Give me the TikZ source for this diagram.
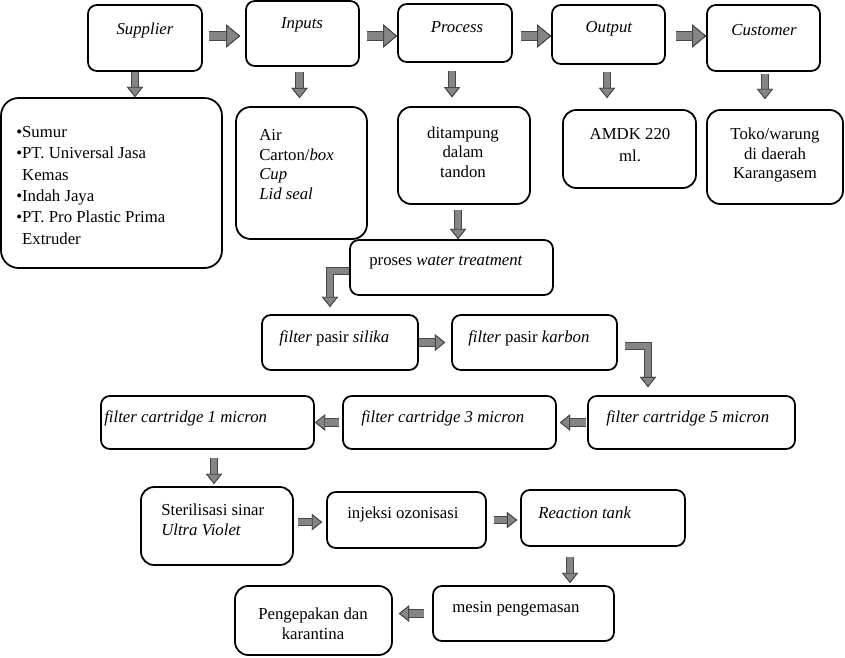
\documentclass[tikz,border=0pt]{standalone}
\usepackage{fontspec}
\setmainfont{Liberation Serif}
\newfontfamily\tnr{Liberation Serif}
\usetikzlibrary{arrows.meta,positioning,calc,fit}
\definecolor{arrfill}{gray}{0.52}
\definecolor{arrline}{gray}{0.28}
\tikzset{
  box/.style={draw=black, line width=1.2pt, rounded corners=6pt, inner sep=0pt},
  bigbox/.style={box, rounded corners=12pt},
  txt/.style={font=\tnr\fontsize{11.4}{13.4}\selectfont, inner sep=0pt, align=left},
  ctxt/.style={txt, align=center},
  arr/.style={draw=arrfill, line width=4.4pt, line join=miter,
              -{Triangle[length=7pt, width=11pt, fill=arrfill, color=arrline, line width=0.6pt]},
              preaction={draw=arrline, line width=5.8pt}},
  bigarr/.style={arr, line width=6pt,
              -{Triangle[length=9.5pt, width=15.6pt, fill=arrfill, color=arrline, line width=0.6pt]},
              preaction={draw=arrline, line width=7.4pt}},
}
\begin{document}
\begin{tikzpicture}[x=0.68pt, y=-0.68pt]
  \useasboundingbox (0,0) rectangle (845,657);
  % SIPOC row
  \node[box, fit={(88,5) (202,71)}] (sup) {};
  \node[box, fit={(246,1) (359,66)}] (inp) {};
  \node[box, fit={(398,4) (512,62)}] (pro) {};
  \node[box, fit={(552,5) (665,64)}] (out) {};
  \node[box, fit={(707,5) (820,71)}] (cus) {};
  \node[ctxt] (supT) at (145,30) {\textit{Supplier}};
  \node[ctxt] (inpT) at (302,25) {\textit{Inputs}};
  \node[ctxt] (proT) at (457,27) {\textit{Process}};
  \node[ctxt] (outT) at (609,29) {\textit{Output}};
  \node[ctxt] (cusT) at (764,30) {\textit{Customer}};
  % details under each
  \node[bigbox, fit={(1,98) (222,268)}] (supL) {};
  \node[box, rounded corners=10pt, fit={(236,107) (367,239)}] (inpL) {};
  \node[box, rounded corners=9pt, fit={(398,107) (530,204)}] (tand) {};
  \node[box, rounded corners=9pt, fit={(563,110) (696,188)}] (amdk) {};
  \node[box, rounded corners=9pt, fit={(707,110) (843,204)}] (toko) {};
  \node[txt, font=\tnr\fontsize{11.4}{14.5}\selectfont, anchor=north west] (supLT) at (16,126)
    {\textbullet Sumur\\ \textbullet PT. Universal Jasa\\ \phantom{\textbullet}Kemas\\
     \textbullet Indah Jaya\\ \textbullet PT. Pro Plastic Prima\\ \phantom{\textbullet}Extruder};
  \node[txt, anchor=north west] (inpLT) at (259,129) {Air\\ Carton/\textit{box}\\ \textit{Cup}\\ \textit{Lid seal}};
  \node[ctxt] (tandT) at (463,152) {ditampung\\ dalam\\ tandon};
  \node[ctxt, font=\tnr\fontsize{11.4}{15}\selectfont] (amdkT) at (630,145) {AMDK 220\\ ml.};
  \node[ctxt] (tokoT) at (775,155) {Toko/warung\\ di daerah\\ Karangasem};
  % water treatment chain
  \node[box, fit={(350,240) (553,295)}] (wt) {};
  \node[box, fit={(262,315) (418,370)}] (sil) {};
  \node[box, fit={(452,315) (617,370)}] (kar) {};
  \node[box, fit={(588,396) (795,449)}] (c5) {};
  \node[box, fit={(343,396) (556,449)}] (c3) {};
  \node[box, fit={(101,396) (314,449)}] (c1) {};
  \node[box, rounded corners=9pt, fit={(141,487) (293,565)}] (uv) {};
  \node[box, fit={(327,492) (486,548)}] (oz) {};
  \node[box, fit={(521,490) (685,546)}] (rt) {};
  \node[box, fit={(433,586) (614,641)}] (mes) {};
  \node[box, rounded corners=9pt, fit={(235,586) (392,655)}] (pak) {};
  \node[txt, anchor=west] (wtT) at (369,263) {proses \textit{water treatment}};
  \node[txt, anchor=west] (silT) at (279,338) {\textit{filter} pasir \textit{silika}};
  \node[txt, anchor=west] (karT) at (468,338) {\textit{filter} pasir \textit{karbon}};
  \node[txt, anchor=west] (c5T) at (606,418) {\textit{filter cartridge 5 micron}};
  \node[txt, anchor=west] (c3T) at (361,418) {\textit{filter cartridge 3 micron}};
  \node[txt, anchor=west] (c1T) at (104,418) {\textit{filter cartridge 1 micron}};
  \node[txt, anchor=north west] (uvT) at (161,504) {Sterilisasi sinar\\ \textit{Ultra Violet}};
  \node[txt, anchor=west] (ozT) at (347,514) {injeksi ozonisasi};
  \node[txt, anchor=west] (rtT) at (538,513) {\textit{Reaction tank}};
  \node[txt, anchor=west] (mesT) at (452,609) {mesin pengemasan};
  \node[ctxt] (pakT) at (313,624) {Pengepakan dan\\ karantina};
  % arrows
  \coordinate (top) at (0,36);
  \draw[bigarr, shorten <=4pt, shorten >=3.4pt] (sup.east |- top) -- (inp.west |- top);
  \draw[bigarr, shorten <=4.8pt] (inp.east |- top) -- (pro.west |- top);
  \draw[bigarr, shorten <=5.4pt] (pro.east |- top) -- (out.west |- top);
  \draw[bigarr, shorten <=6.8pt] (out.east |- top) -- (cus.west |- top);
  \draw[arr] ([xshift=-6.8pt]sup.south) -- ([xshift=-6.8pt]sup.south |- supL.north);
  \draw[arr, shorten <=3.4pt, shorten >=5.4pt] ([xshift=-2pt]inp.south) -- ([xshift=-2pt]inp.south |- inpL.north);
  \draw[arr, shorten <=5.4pt, shorten >=6pt] ([xshift=-2pt]pro.south) -- ([xshift=-2pt]pro.south |- tand.north);
  \draw[arr, shorten <=4.8pt, shorten >=7.5pt] ([xshift=-1pt]out.south) -- ([xshift=-1pt]out.south |- amdk.north);
  \draw[arr, shorten <=1.4pt, shorten >=6.8pt] ([xshift=1pt]cus.south) -- ([xshift=1pt]cus.south |- toko.north);
  \draw[arr, shorten <=3.4pt] ([xshift=-4pt]tand.south) -- ([xshift=-4pt]tand.south |- wt.north);
  \draw[arr, shorten >=4.8pt] ([yshift=-2.4pt]wt.west) -| ([xshift=-6.8pt]sil.north);
  \draw[arr, shorten >=4pt] (sil.east) -- (sil.east -| kar.west);
  \draw[arr, shorten <=4.8pt, shorten >=5.4pt] ([yshift=-2.4pt]kar.east) -| ([xshift=-29.6pt]c5.north);
  \draw[arr, shorten <=0.7pt, shorten >=2pt] (c5.west) -- (c5.west -| c3.east);
  \draw[arr, shorten <=2pt] (c3.west) -- (c3.west -| c1.east);
  \draw[arr, shorten <=5.4pt, shorten >=1.4pt] ([xshift=4.4pt]c1.south) -- ([xshift=4.4pt]c1.south |- uv.north);
  \draw[arr, shorten <=2.7pt, shorten >=2.7pt] ([yshift=-1.4pt]oz.west -| uv.east) -- ([yshift=-1.4pt]oz.west);
  \draw[arr, shorten <=4.8pt, shorten >=2pt] (oz.east) -- (oz.east -| rt.west);
  \draw[arr, shorten <=6.8pt, shorten >=1.4pt] ([xshift=-22.4pt]rt.south) -- ([xshift=-22.4pt]rt.south |- mes.north);
  \draw[arr, shorten <=5.4pt, shorten >=4pt] (mes.west) -- (mes.west -| pak.east);
\end{tikzpicture}
\end{document}
